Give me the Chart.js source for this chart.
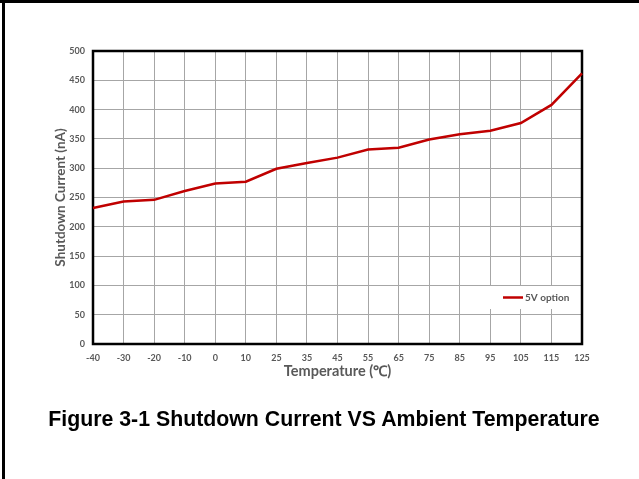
<!DOCTYPE html>
<html>
<head>
<meta charset="utf-8">
<script src="https://cdn.jsdelivr.net/npm/chart.js@4.4.1/dist/chart.umd.min.js"></script>
<style>
  html, body { margin: 0; padding: 0; background: #fff; }
  #page { position: relative; width: 639px; height: 479px; overflow: hidden; }
  #edgeTop { position: absolute; left: 0; top: 0; width: 639px; height: 3px; background: #000; }
  #edgeLeft { position: absolute; left: 2px; top: 0; width: 3px; height: 479px; background: #000; }
  #wrap { position: absolute; left: 0; top: 0; width: 639px; height: 479px; }
  #caption {
    position: absolute; left: 0; top: 407px; width: 648px; text-align: center;
    font-family: "Liberation Sans", Arial, sans-serif; font-weight: bold; font-size: 21.3px; color: #000;
  }
</style>
</head>
<body>
<div id="page">
  <div id="wrap"><canvas id="shutdownChart"></canvas></div>
  <div id="edgeTop"></div>
  <div id="edgeLeft"></div>
  <div id="caption">Figure 3-1 Shutdown Current VS Ambient Temperature</div>
</div>
<script>
// data
const temperatures = ['-40', '-30', '-20', '-10', '0', '10', '25', '35', '45', '55', '65', '75', '85', '95', '105', '115', '125'];
const current5V = [232, 243, 246, 261, 274, 277, 299, 309, 318, 332, 335, 349, 358, 364, 377, 408, 462];
const yTicks = [0, 50, 100, 150, 200, 250, 300, 350, 400, 450, 500];

const axisGrey = '#595959';
const gridGrey = '#a6a6a6';
const tickFont = { family: 'Lato, "Open Sans", sans-serif', size: 9, weight: 'bold' };

// frame round the plot area + legend box inside it
const framePlugin = {
    id: 'frame',
    beforeDatasetsDraw(chart) {
        const { ctx, chartArea: a } = chart;
        ctx.save();
        ctx.strokeStyle = '#000';
        ctx.lineWidth = 2.5;
        ctx.strokeRect(a.left, a.top, a.right - a.left, a.bottom - a.top);
        ctx.restore();
    },
    afterDraw(chart) {
        const { ctx, chartArea: a } = chart;
        const ds = chart.data.datasets[0];
        const boxRight = a.right - 2;
        const boxBottom = a.bottom - 35;
        ctx.save();
        ctx.fillStyle = '#fff';
        ctx.fillRect(boxRight - 92, boxBottom - 23, 92, 23);
        const midY = boxBottom - 11.5;
        ctx.strokeStyle = ds.borderColor;
        ctx.lineWidth = 2.5;
        ctx.beginPath();
        ctx.moveTo(boxRight - 77, midY);
        ctx.lineTo(boxRight - 57, midY);
        ctx.stroke();
        ctx.fillStyle = axisGrey;
        ctx.font = 'bold 10px Lato, "Open Sans", sans-serif';
        ctx.textBaseline = 'middle';
        ctx.fillText(ds.label, boxRight - 55, midY);
        ctx.restore();
    }
};

new Chart(document.getElementById('shutdownChart'), {
    type: 'line',
    data: {
        labels: temperatures,
        datasets: [{
            label: '5V option',
            data: current5V,
            borderColor: '#c00000',
            borderWidth: 2.5,
            pointRadius: 0,
            tension: 0,
            fill: false
        }]
    },
    options: {
        responsive: true,
        maintainAspectRatio: false,
        animation: false,
        layout: { padding: { top: 51, right: 57, bottom: 99, left: 0 } },
        plugins: {
            legend: { display: false },
            tooltip: { enabled: false }
        },
        scales: {
            x: {
                type: 'category',
                offset: false,
                grid: { color: gridGrey, lineWidth: 1, drawTicks: false },
                border: { display: false },
                ticks: { color: axisGrey, font: tickFont, padding: 9, maxRotation: 0, autoSkip: false },
                title: {
                    display: true, text: 'Temperature (℃)', color: axisGrey,
                    font: { family: 'Lato, "Open Sans", sans-serif', size: 14.5, weight: 'bold' },
                    padding: 0
                },
                afterFit(scale) { scale.height = 36; }
            },
            y: {
                min: 0,
                max: 500,
                afterBuildTicks(scale) { scale.ticks = yTicks.map(v => ({ value: v })); },
                grid: { color: gridGrey, lineWidth: 1, drawTicks: false },
                border: { display: false },
                ticks: { color: axisGrey, font: tickFont, padding: 8 },
                title: {
                    display: true, text: 'Shutdown Current (nA)', color: axisGrey,
                    font: { family: 'Lato, "Open Sans", sans-serif', size: 13.5, weight: 'bold' },
                    padding: { top: 53, bottom: 0 }
                },
                afterFit(scale) { scale.width = 93; }
            }
        }
    },
    plugins: [framePlugin]
});
</script>
</body>
</html>
